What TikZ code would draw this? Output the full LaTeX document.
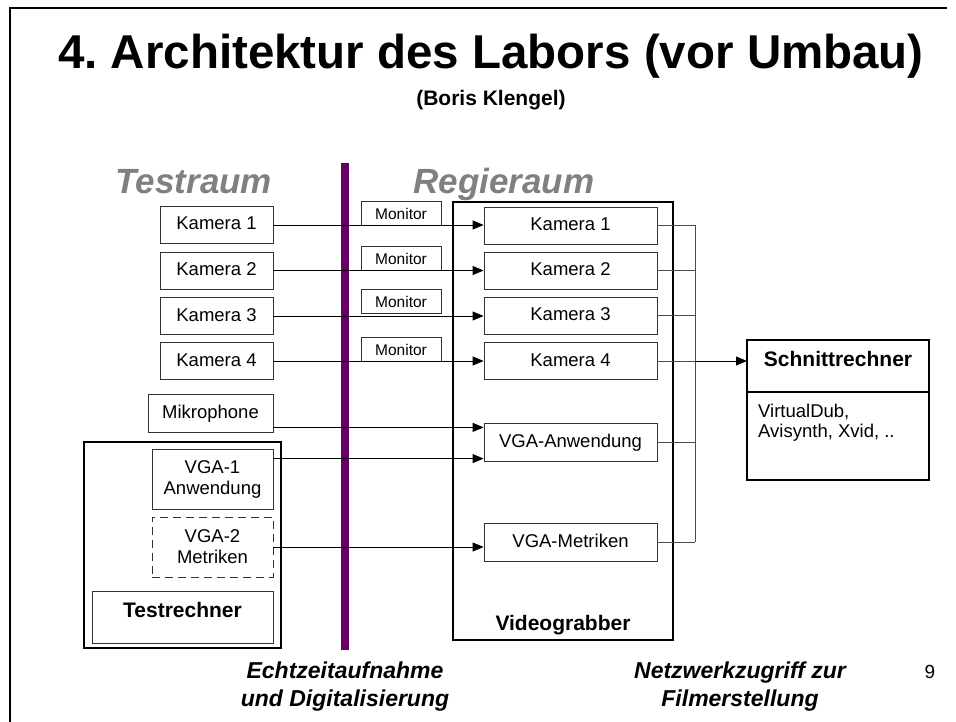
\documentclass[tikz,border=0pt]{standalone}
\usepackage{fontspec}
\setmainfont{Liberation Sans}
\usetikzlibrary{positioning,arrows.meta}
\definecolor{lila}{HTML}{660066}
\definecolor{raumgrau}{HTML}{808080}

\begin{document}
\begin{tikzpicture}[x=1pt,y=-1pt,
	box/.style={draw=black!80, line width=0.8pt, inner sep=0pt, minimum height=37pt, align=center, text height=13.5pt, text depth=3.5pt, font=\fontsize{18.5}{21}\selectfont},
	zweizeilig/.style={text height=, text depth=},
	monitor/.style={draw=black!80, line width=0.8pt, inner sep=0pt, minimum width=80pt, minimum height=24pt, anchor=south, font=\fontsize{15.5}{18}\selectfont},
	rahmen/.style={draw=black, line width=1.8pt, inner sep=0pt, outer sep=0pt},
	pfeil/.style={-{Triangle[length=11pt,width=9pt]}, line width=0.8pt},
	bus/.style={draw=black!70, line width=0.8pt},
	raum/.style={text=raumgrau, font=\fontsize{35}{40}\selectfont\bfseries\itshape, anchor=base},
	fuss/.style={font=\fontsize{23}{28}\selectfont\bfseries\itshape, align=center, anchor=base}]
	
	\useasboundingbox (0,0) rectangle (956,722);
	
	% Folienrand
	\draw[line width=2.5pt] (947,8) -- (10,8) -- (10,722);
	
	% Titel
	\node[font=\fontsize{47.5}{56}\selectfont\bfseries, anchor=base] (titel) at (491,69) {4.\ Architektur des Labors (vor Umbau)};
	\node[font=\fontsize{21}{25}\selectfont\bfseries, anchor=base] (autor) at (491,106) {(Boris Klengel)};
	
	% Raeume
	\node[raum] (testraum) at (194,194) {Testraum};
	\node[raum] (regieraum) at (504,194) {Regieraum};
	\draw[lila, line width=8pt] (345,163) -- (345,650);
	
	% Kameras im Testraum
	\node[box, minimum width=113pt] (k1) at (216.5,225) {Kamera 1};
	\node[box, minimum width=113pt] (k2) at (216.5,270.5) {Kamera 2};
	\node[box, minimum width=113pt] (k3) at (216.5,316) {Kamera 3};
	\node[box, minimum width=113pt] (k4) at (216.5,361) {Kamera 4};
	\node[box, minimum width=125pt, minimum height=38pt] (mic) at (210.5,413) {Mikrophone};
	
	% Testrechner
	\node[rahmen, minimum width=197pt, minimum height=206pt] (pc) at (182.5,545) {};
	\node[box, zweizeilig, minimum width=121pt, minimum height=60pt] (v1) at (212.5,479) {VGA-1\\Anwendung};
	\node[box, zweizeilig, dash pattern=on 8pt off 5pt, minimum width=121pt, minimum height=60pt] (v2) at (212.5,547) {VGA-2\\Metriken};
	\node[box, minimum width=181pt, minimum height=52pt, text height=15pt, text depth=15pt, font=\fontsize{21}{25}\selectfont\bfseries] (tr) at (182.5,617) {Testrechner};
	
	% Monitore
	\node[monitor] (m1) at (401,226) {Monitor};
	\node[monitor] (m2) at (401,271) {Monitor};
	\node[monitor] (m3) at (401,314) {Monitor};
	\node[monitor] (m4) at (401,362) {Monitor};
	
	% Videograbber im Regieraum
	\node[rahmen, minimum width=220pt, minimum height=438pt,
	label={[font=\fontsize{21}{25}\selectfont\bfseries, anchor=base, yshift=10pt]south:Videograbber}] (grabber) at (563,421) {};
	\node[box, minimum width=173pt] (g1) at (570.5,225.5) {Kamera 1};
	\node[box, minimum width=173pt] (g2) at (570.5,270.5) {Kamera 2};
	\node[box, minimum width=173pt] (g3) at (570.5,315.5) {Kamera 3};
	\node[box, minimum width=173pt] (g4) at (570.5,361) {Kamera 4};
	\node[box, minimum width=173pt, minimum height=38pt] (va) at (570.5,442) {VGA-Anwendung};
	\node[box, minimum width=173pt, minimum height=38pt] (vm) at (570.5,542) {VGA-Metriken};
	
	% Schnittrechner
	\node[rahmen, minimum width=182pt, minimum height=52pt, text height=15pt, text depth=15pt, font=\fontsize{21}{25}\selectfont\bfseries] (schnitt) at (838,366) {Schnittrechner};
	\node[rahmen, minimum width=182pt, minimum height=88pt, anchor=north] (software) at (schnitt.south) {};
	\node[anchor=north west, align=left, inner sep=0pt, font=\fontsize{18.5}{20}\selectfont] (progs) at ([xshift=11pt,yshift=-11.5pt]software.north west) {VirtualDub,\\Avisynth, Xvid, ..};
	
	% Signale zum Videograbber
	\draw[pfeil] (k1.east) -- (k1.east -| g1.west);
	\draw[pfeil] (k2.east) -- (k2.east -| g2.west);
	\draw[pfeil] (k3.east) -- (k3.east -| g3.west);
	\draw[pfeil] (k4.east) -- (k4.east -| g4.west);
	\draw[pfeil] ([yshift=5pt]mic.south east) -- ([yshift=5pt]mic.south east -| va.west);
	\draw[pfeil] ([yshift=-10pt]v1.north east) -- ([yshift=-10pt]v1.north east -| va.west);
	\draw[pfeil] (v2.east) -- (v2.east -| vm.west);
	
	% Netzwerk zum Schnittrechner
	\coordinate (sammel) at (695,225.5);
	\draw[bus] (g1.east) -- (g1.east -| sammel);
	\draw[bus] (g2.east) -- (g2.east -| sammel);
	\draw[bus] (g3.east) -- (g3.east -| sammel);
	\draw[bus] (g4.east) -- (g4.east -| sammel);
	\draw[bus] (va.east) -- (va.east -| sammel);
	\draw[bus] (vm.east) -- (vm.east -| sammel);
	\draw[bus] (g1.east -| sammel) -- (vm.east -| sammel);
	\draw[pfeil] (g4.east -| sammel) -- (g4.east -| schnitt.west);
	
	% Beschriftung unten
	\node[fuss] (echtzeit) at (345,706) {Echtzeitaufnahme\\und Digitalisierung};
	\node[fuss] (netzwerk) at (740,706) {Netzwerkzugriff zur\\Filmerstellung};
	\node[font=\fontsize{19}{22}\selectfont, anchor=base] (seite) at (930,678) {9};
	
\end{tikzpicture}
\end{document}
